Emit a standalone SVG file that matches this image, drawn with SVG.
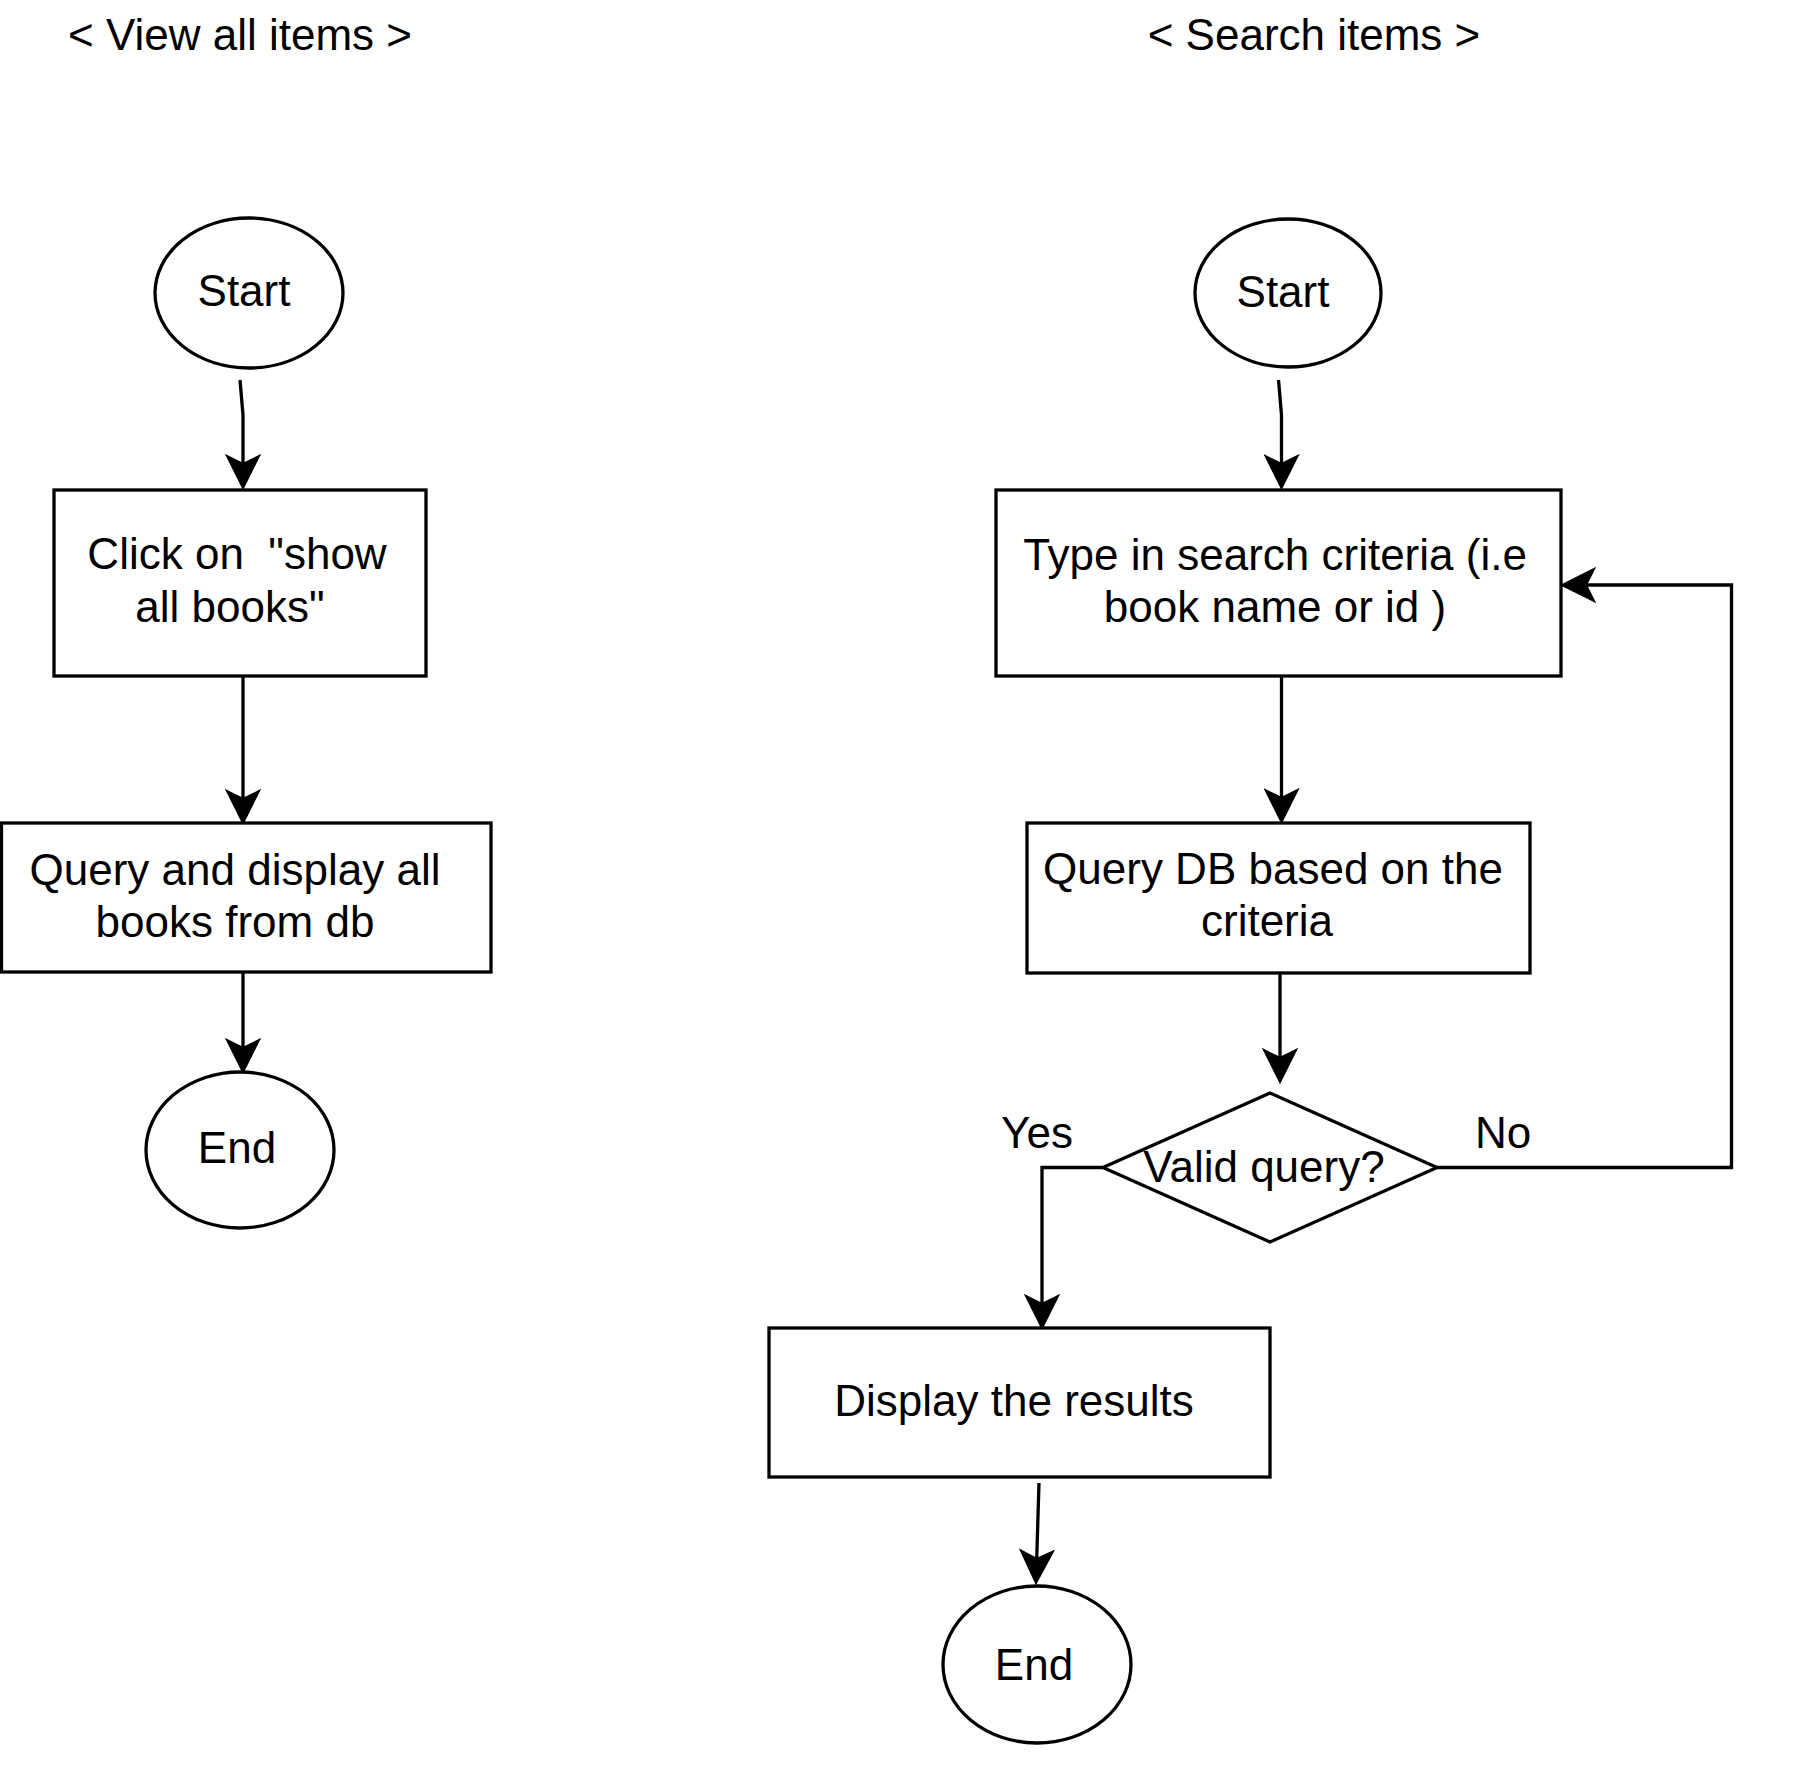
<svg xmlns="http://www.w3.org/2000/svg" width="1798" height="1774" viewBox="0 0 1798 1774">
  <style>
    .shape { fill: #ffffff; stroke: #000000; stroke-width: 3.3; }
    .edge { fill: none; stroke: #000000; stroke-width: 3.3; marker-end: url(#arrow); }
    text { font-family: "Liberation Sans", Arial, Helvetica, sans-serif; font-size: 44px; fill: #000000; text-anchor: middle; white-space: pre; }
  </style>
  <defs>
    <marker id="arrow" viewBox="0 0 36 36" refX="10" refY="18" markerWidth="36" markerHeight="36" markerUnits="userSpaceOnUse" orient="auto">
      <path d="M34 18 L2 2 L10 18 L2 34 Z" fill="#000000" stroke="#000000" stroke-width="2" stroke-linejoin="miter"/>
    </marker>
  </defs>
  <rect width="1798" height="1774" fill="#ffffff"/>

  <g id="title-view">
    <text x="240" y="50">&lt; View all items &gt;</text>
  </g>
  <g id="title-search">
    <text x="1314" y="50">&lt; Search items &gt;</text>
  </g>

  <g id="connectors">
    <path class="edge" d="M240 380 L243 415 L243 464"/>
    <path class="edge" d="M243 676 L243 799"/>
    <path class="edge" d="M243 972 L243 1048"/>
    <path class="edge" d="M1278.5 380 L1281.5 415 L1281.5 464"/>
    <path class="edge" d="M1281.5 676 L1281.5 798"/>
    <path class="edge" d="M1280 973 L1280 1058"/>
    <path class="edge" d="M1437 1167.5 L1731.5 1167.5 L1731.5 585 L1586 585"/>
    <path class="edge" d="M1103 1167.5 L1042 1167.5 L1042 1304"/>
    <path class="edge" d="M1039 1483 L1036.7 1559"/>
  </g>

  <g id="start-left">
    <ellipse class="shape" cx="249" cy="293" rx="94" ry="75"/>
    <text x="244" y="306">Start</text>
  </g>
  <g id="click-show-all">
    <rect class="shape" x="54" y="490" width="372" height="186"/>
    <text x="237" y="569" xml:space="preserve">Click on  "show</text>
    <text x="230" y="622">all books"</text>
  </g>
  <g id="query-display-all">
    <rect class="shape" x="1.5" y="823" width="489.5" height="149"/>
    <text x="235" y="885">Query and display all</text>
    <text x="235" y="937">books from db</text>
  </g>
  <g id="end-left">
    <ellipse class="shape" cx="240" cy="1150" rx="94" ry="78"/>
    <text x="237" y="1163">End</text>
  </g>

  <g id="start-right">
    <ellipse class="shape" cx="1288" cy="293" rx="93" ry="74"/>
    <text x="1283" y="307">Start</text>
  </g>
  <g id="type-criteria">
    <rect class="shape" x="996" y="490" width="565" height="186"/>
    <text x="1275" y="570">Type in search criteria (i.e</text>
    <text x="1275" y="622">book name or id )</text>
  </g>
  <g id="query-db">
    <rect class="shape" x="1027" y="823" width="503" height="150"/>
    <text x="1273" y="884">Query DB based on the</text>
    <text x="1267" y="936">criteria</text>
  </g>
  <g id="valid-query">
    <polygon class="shape" points="1270,1093 1437,1167.5 1270,1242 1103,1167.5"/>
    <text x="1264" y="1182">Valid query?</text>
  </g>
  <g id="label-yes">
    <text x="1037" y="1148">Yes</text>
  </g>
  <g id="label-no">
    <text x="1503" y="1148">No</text>
  </g>
  <g id="display-results">
    <rect class="shape" x="769" y="1328" width="501" height="149"/>
    <text x="1014" y="1416">Display the results</text>
  </g>
  <g id="end-right">
    <ellipse class="shape" cx="1037" cy="1664.5" rx="94" ry="78.5"/>
    <text x="1034" y="1680">End</text>
  </g>
</svg>
